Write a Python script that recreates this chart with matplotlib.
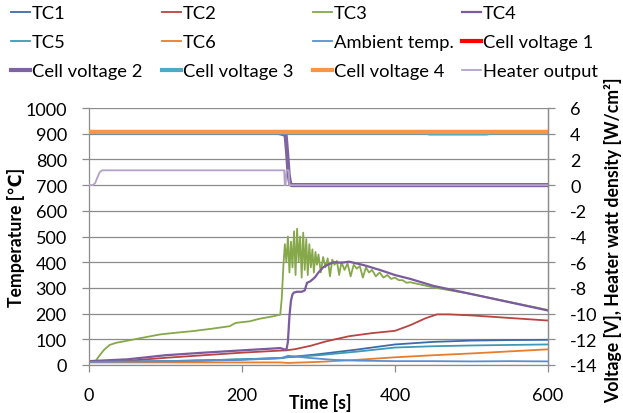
import matplotlib
matplotlib.use("Agg")
import matplotlib.pyplot as plt

# ── data ─────────────────────────────────────────────────────────────────────
t_tc1 = [0, 50, 100, 150, 200, 250, 258, 270, 300, 350, 400, 450, 500, 550, 600]
tc1   = [12, 13, 15, 18, 22, 27, 30, 33, 42, 60, 80, 90, 95, 97, 98]

t_tc2 = [0, 50, 100, 150, 200, 250, 258, 270, 290, 310, 340, 370, 400, 420, 440, 455, 470, 500, 550, 600]
tc2   = [12, 16, 28, 38, 48, 56, 57, 62, 75, 92, 112, 124, 133, 155, 182, 197, 197, 193, 183, 173]

t_tc3 = [0, 5, 9, 14, 20, 27, 35, 49, 70, 93, 115, 136, 160, 184, 188, 192, 210, 223, 240, 250, 252,
         254, 256, 258, 260, 262, 264, 266, 268, 270, 272, 274, 276, 278, 280, 282, 284, 286, 288, 290,
         292, 294, 296, 298, 300, 303, 306, 309, 312, 315, 318, 321, 324, 327, 330, 334, 338, 342, 346,
         350, 354, 358, 362, 366, 370, 375, 380, 385, 390, 395, 400, 405, 410, 415, 420, 450, 500, 550, 600]
tc3   = [12, 12, 17, 38, 60, 78, 86, 94, 106, 119, 126, 132, 141, 151, 158, 164, 170, 180, 189, 196, 260,
         380, 470, 400, 500, 360, 480, 380, 520, 350, 530, 400, 500, 340, 515, 370, 490, 350, 470, 380,
         450, 360, 440, 390, 430, 360, 420, 380, 415, 345, 410, 390, 405, 350, 400, 370, 395, 345, 390,
         375, 385, 340, 380, 360, 370, 345, 360, 340, 350, 335, 340, 330, 330, 320, 322, 302, 276, 245, 214]

t_tc4 = [0, 50, 100, 150, 200, 240, 250, 256, 258, 260, 262, 264, 266, 268, 272, 278, 282, 285, 289,
         295, 300, 306, 312, 320, 330, 340, 350, 360, 380, 400, 420, 450, 500, 550, 600]
tc4   = [15, 22, 38, 48, 57, 64, 66, 60, 58, 90, 190, 250, 275, 282, 285, 285, 290, 320, 325,
         340, 360, 380, 390, 400, 398, 402, 395, 388, 370, 350, 335, 308, 276, 244, 212]

t_tc5 = [0, 50, 100, 150, 200, 250, 258, 270, 300, 350, 400, 450, 500, 550, 600]
tc5   = [12, 13, 15, 18, 22, 27, 30, 32, 38, 52, 68, 73, 76, 78, 80]

t_tc6 = [0, 100, 200, 250, 260, 280, 300, 350, 400, 450, 500, 550, 600]
tc6   = [10, 10, 10, 10, 8, 10, 12, 20, 30, 38, 45, 53, 61]

t_amb = [0, 100, 200, 250, 255, 260, 270, 290, 320, 350, 400, 450, 500, 550, 600]
amb   = [12, 14, 20, 26, 30, 36, 33, 27, 20, 17, 15, 15, 14, 15, 14]

t_cv = [0, 600]
cv1  = [4.1, 4.1]
cv4  = [4.1, 4.1]

t_cv3 = [0, 440, 445, 520, 525, 600]
cv3   = [4.1, 4.1, 4.02, 4.02, 4.1, 4.1]

t_cv2 = [0, 245, 252, 257, 259, 261, 263, 265, 600]
cv2   = [4.1, 4.1, 4.0, 3.9, 2.5, 0.8, 0.1, 0.0, 0.0]

t_heat = [0, 5, 8, 11, 14, 17, 255, 256, 257, 258, 261, 262, 600]
heat   = [0.0, 0.0, 0.15, 0.6, 1.0, 1.15, 1.15, 0.0, 0.0, 1.15, 1.15, 0.0, 0.0]

x_ticks = [0, 200, 400, 600]
y_ticks = list(range(0, 1001, 100))
y2_ticks = list(range(-14, 7, 2))

# ── figure ───────────────────────────────────────────────────────────────────
plt.rcParams["font.family"] = ["Lato", "DejaVu Sans"]
W, H = 623, 414
fig = plt.figure(figsize=(W / 100, H / 100), dpi=100)
ax = fig.add_axes([89 / W, 48 / H, 459 / W, 257 / H])
ax2 = ax.twinx()

grey = "#8C8C8C"
lw = 1.3
ax.plot(t_tc1, tc1, color="#3F6AAA", lw=lw, label="TC1")
ax.plot(t_tc2, tc2, color="#B94441", lw=lw, label="TC2")
ax.plot(t_tc3, tc3, color="#86A84A", lw=lw, label="TC3")
ax.plot(t_tc4, tc4, color="#7A5C9E", lw=1.6, label="TC4")
ax.plot(t_tc5, tc5, color="#3E9AB4", lw=lw, label="TC5")
ax.plot(t_tc6, tc6, color="#E67E2E", lw=lw, label="TC6")
ax.plot(t_amb, amb, color="#5B8FD0", lw=lw, label="Ambient temp.")

ax2.plot(t_cv, cv1, color="#FF0000", lw=3, label="Cell voltage 1")
ax2.plot(t_cv2, cv2, color="#8064A2", lw=3, label="Cell voltage 2")
ax2.plot(t_cv3, cv3, color="#4BACC6", lw=3, label="Cell voltage 3")
ax2.plot(t_cv, cv4, color="#F79646", lw=3, label="Cell voltage 4")
ax2.plot(t_heat, heat, color="#B3A2C7", lw=lw, label="Heater output")

ax.set_xlim(0, 600)
ax.set_ylim(0, 1000)
ax2.set_ylim(-14, 6)
ax.set_xticks(x_ticks)
ax.set_yticks(y_ticks)
ax2.set_yticks(y2_ticks)
ax2.set_yticklabels([str(v) for v in y2_ticks])
ax.yaxis.grid(True, color=grey, lw=0.9)
ax.set_axisbelow(True)

for a in (ax, ax2):
    for s in a.spines.values():
        s.set_color(grey)
        s.set_linewidth(0.9)
    a.spines["top"].set_visible(False)
    a.tick_params(direction="out", length=5, color=grey, width=0.9,
                  labelsize=13, pad=11, labelcolor="black")
ax2.spines["left"].set_visible(False)
ax2.spines["bottom"].set_visible(False)

fs_lab = 12.7
fig.text(320 / W, 1 - 403 / H, "Time [s]", ha="center", va="center",
         fontsize=fs_lab, fontweight="bold")
fig.text(16 / W, 1 - 237 / H, "Temperature [℃]", ha="center", va="center",
         rotation=90, fontsize=fs_lab, fontweight="bold")
fig.text(613 / W, 1 - 240 / H, "Voltage [V], Heater watt density [W/cm²]",
         ha="center", va="center", rotation=90, fontsize=fs_lab, fontweight="bold")

# legend: one block per column so columns sit at fixed, equal spacing
h1, l1 = ax.get_legend_handles_labels()
h2, l2 = ax2.get_legend_handles_labels()
hs, ls = h1 + h2, l1 + l2
col_x = [11, 162, 313, 462]
for c, x0 in enumerate(col_x):
    idx = [c, c + 4, c + 8]
    fig.legend([hs[i] for i in idx], [ls[i] for i in idx],
               loc="upper left", bbox_to_anchor=(x0 / W, 1 - 6 / H),
               frameon=False, fontsize=13.2, handlelength=1.05, handletextpad=0.08,
               labelspacing=0.72, borderpad=0, borderaxespad=0)

plt.savefig("out.png", dpi=100)
